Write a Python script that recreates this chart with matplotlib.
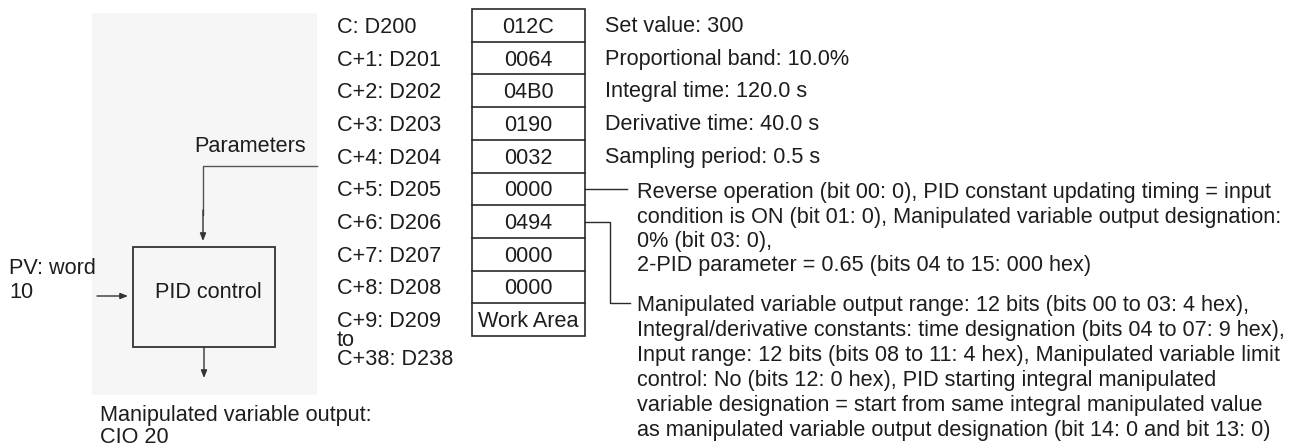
# Importing Libraries
import matplotlib
matplotlib.use("Agg")
import matplotlib.pyplot as plt
from matplotlib.patches import Rectangle


# Data
word_labels = ["C: D200", "C+1: D201", "C+2: D202", "C+3: D203", "C+4: D204",
               "C+5: D205", "C+6: D206", "C+7: D207", "C+8: D208"]
range_label = ["C+9: D209", "to", "C+38: D238"]
cell_values = ["012C", "0064", "04B0", "0190", "0032", "0000", "0494", "0000", "0000", "Work Area"]
descriptions = ["Set value: 300", "Proportional band: 10.0%", "Integral time: 120.0 s",
                "Derivative time: 40.0 s", "Sampling period: 0.5 s"]
c5_lines = [
    "Reverse operation (bit 00: 0), PID constant updating timing = input",
    "condition is ON (bit 01: 0), Manipulated variable output designation:",
    "0% (bit 03: 0),",
    "2-PID parameter = 0.65 (bits 04 to 15: 000 hex)",
]
c6_lines = [
    "Manipulated variable output range: 12 bits (bits 00 to 03: 4 hex),",
    "Integral/derivative constants: time designation (bits 04 to 07: 9 hex),",
    "Input range: 12 bits (bits 08 to 11: 4 hex), Manipulated variable limit",
    "control: No (bits 12: 0 hex), PID starting integral manipulated",
    "variable designation = start from same integral manipulated value",
    "as manipulated variable output designation (bit 14: 0 and bit 13: 0)",
]
input_label = ["PV: word", "10"]
output_label = ["Manipulated variable output:", "CIO 20"]


# Parameters
W, H = 1300, 446
txt_color = "#1f1c1d"
line_color = "#2a2a2a"
fs = 15.6
font = "Liberation Sans"

table_left, table_right = 472, 585
table_top, row_h = 9, 32.7
label_x, desc_x, para_x = 337, 605, 637

plt.rcParams['font.family'] = [font, 'DejaVu Sans']

# Figure (pixel coordinates, y downwards)
fig = plt.figure(figsize=(W / 100, H / 100), dpi=100)
ax = fig.add_axes([0, 0, 1, 1])
ax.set_xlim(0, W)
ax.set_ylim(H, 0)
ax.axis("off")


def put(x, y, s, **kw):
    ax.text(x, y, s, fontsize=fs, color=txt_color, va="baseline", **kw)


def arrow(x0, y0, x1, y1):
    ax.annotate("", xy=(x1, y1), xytext=(x0, y0),
                arrowprops=dict(arrowstyle="-|>,head_length=0.45,head_width=0.18",
                                color="#333333", lw=1.0, shrinkA=0, shrinkB=0))


# Light background behind block diagram
ax.add_patch(Rectangle((92, 13), 225, 382, facecolor="#f6f6f6", edgecolor="none", zorder=0))

# PID block
ax.add_patch(Rectangle((133, 247), 142, 100, facecolor="none", edgecolor="#333333", lw=1.3))
put(155, 298, "PID control")

# Parameters line
put(194, 152, "Parameters")
ax.plot([317, 203, 203], [166, 166, 215], color="#555555", lw=1.0)
arrow(203, 210, 203, 241)

# Input / output
arrow(97, 296, 128, 296)
put(9, 274, input_label[0])
put(9, 298, input_label[1])
arrow(204, 347, 204, 378)
put(100, 421, output_label[0])
put(100, 443, output_label[1])

# Table of words
n_rows = len(cell_values)
ax.add_patch(Rectangle((table_left, table_top), table_right - table_left, n_rows * row_h,
                       facecolor="white", edgecolor=line_color, lw=1.2))
for i in range(1, n_rows):
    y = table_top + i * row_h
    ax.plot([table_left, table_right], [y, y], color=line_color, lw=1.2)

centers = [table_top + (i + 0.5) * row_h for i in range(n_rows)]
for i, v in enumerate(cell_values):
    put((table_left + table_right) / 2, centers[i] + 7.5, v, ha="center")

for i, lab in enumerate(word_labels):
    put(label_x, centers[i] + 7.5, lab)
for j, lab in enumerate(range_label):
    put(label_x, 327 + j * 19, lab)

for i, d in enumerate(descriptions):
    put(desc_x, centers[i] + 6.5, d)

# C+5 description
y5 = centers[5]
ax.plot([table_right, 627], [y5, y5], color=line_color, lw=1.0)
for k, s in enumerate(c5_lines):
    put(para_x, 198 + k * 24.5, s)

# C+6 description
y6 = centers[6]
y6b = 303
ax.plot([table_right, 610, 610, 630], [y6, y6, y6b, y6b], color=line_color, lw=1.0)
for k, s in enumerate(c6_lines):
    put(para_x, 311 + k * 25, s)

fig.savefig("out.png", dpi=100)
